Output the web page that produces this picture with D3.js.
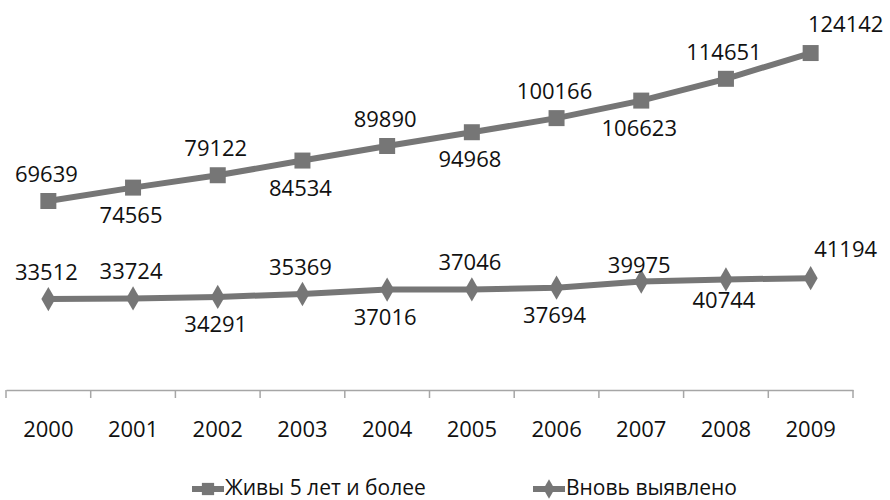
<!DOCTYPE html>
<html>
<head>
<meta charset="utf-8">
<script src="https://cdn.jsdelivr.net/npm/d3@7"></script>
<style>
  body { margin: 0; background: #fff; }
  text { font-family: "Open Sans", sans-serif; fill: #111; }
</style>
</head>
<body>
<div id="chart"></div>
<script>
// Données
const years = ['2000', '2001', '2002', '2003', '2004', '2005', '2006', '2007', '2008', '2009'];
const alive5 = [69639, 74565, 79122, 84534, 89890, 94968, 100166, 106623, 114651, 124142];
const newCases = [33512, 33724, 34291, 35369, 37016, 37046, 37694, 39975, 40744, 41194];
const seriesNames = ['Живы 5 лет и более', 'Вновь выявлено'];

// placement des étiquettes (a = dessus, A = dessus serré, b = dessous, B = dessous serré, r = à droite)
const alivePlace = ['a', 'b', 'a', 'b', 'a', 'b', 'a', 'b', 'a', 'r'];
const newPlace = ['a', 'a', 'b', 'a', 'b', 'a', 'b', 'A', 'B', 'r'];

const width = 890;
const height = 500;
const grey = '#767676';

const svg = d3.select('#chart').append('svg')
  .attr('width', width)
  .attr('height', height);

const x = d3.scaleBand().domain(years).range([6, 853]);
const y = d3.scaleLinear().domain([0, 140000]).range([390, 10]);
const cx = d => x(d) + x.bandwidth() / 2;

// Axe X
const xAxis = svg.append('g')
  .attr('transform', 'translate(0,390)')
  .call(d3.axisBottom(x).tickSize(0).tickPadding(31));
xAxis.select('.domain').attr('stroke', '#a6a6a6').attr('stroke-width', 1.5);
xAxis.selectAll('text').attr('font-size', 22).attr('fill', '#111');

// Petites graduations entre les catégories
const tickEdges = years.map(d => x(d)).concat([x(years[years.length - 1]) + x.bandwidth()]);
svg.append('g').selectAll('line')
  .data(tickEdges)
  .enter()
  .append('line')
  .attr('x1', d => d)
  .attr('x2', d => d)
  .attr('y1', 390)
  .attr('y2', 398)
  .attr('stroke', '#a6a6a6')
  .attr('stroke-width', 1.5);

const line = d3.line()
  .x((d, i) => cx(years[i]))
  .y(d => y(d));

const labelDy = {a: -19, A: -8, b: 35, B: 29, r: -21};

function drawSeries(values, places, marker) {
  const g = svg.append('g');
  g.append('path')
    .datum(values)
    .attr('d', line)
    .attr('fill', 'none')
    .attr('stroke', grey)
    .attr('stroke-width', 6);

  g.selectAll('path.marker')
    .data(values)
    .enter()
    .append('path')
    .attr('class', 'marker')
    .attr('d', marker)
    .attr('transform', (d, i) => `translate(${cx(years[i])},${y(d)})`)
    .attr('fill', grey);

  g.selectAll('text')
    .data(values)
    .enter()
    .append('text')
    .text(d => d)
    .attr('font-size', 22)
    .attr('text-anchor', 'middle')
    .attr('x', (d, i) => cx(years[i]) + (places[i] === 'r' ? 35 : -2))
    .attr('y', (d, i) => y(d) + labelDy[places[i]]);
}

const square = d3.symbol().type(d3.symbolSquare).size(256);
const diamond = d3.symbol().type(d3.symbolDiamond).size(170);

drawSeries(alive5, alivePlace, square);
drawSeries(newCases, newPlace, diamond);

// Légende
const legendItems = [
  {name: seriesNames[0], x: 192, marker: d3.symbol().type(d3.symbolSquare).size(150)},
  {name: seriesNames[1], x: 533, marker: d3.symbol().type(d3.symbolDiamond).size(110)}
];
const legend = svg.append('g').attr('transform', 'translate(0,489)');
const cells = legend.selectAll('g')
  .data(legendItems)
  .enter()
  .append('g')
  .attr('transform', d => `translate(${d.x},0)`);
cells.append('line')
  .attr('x1', 0).attr('x2', 32)
  .attr('stroke', grey).attr('stroke-width', 6);
cells.append('path')
  .attr('d', d => d.marker())
  .attr('transform', 'translate(16,0)')
  .attr('fill', grey);
cells.append('text')
  .text(d => d.name)
  .attr('x', 33)
  .attr('y', 6)
  .attr('font-size', 21);
</script>
</body>
</html>
